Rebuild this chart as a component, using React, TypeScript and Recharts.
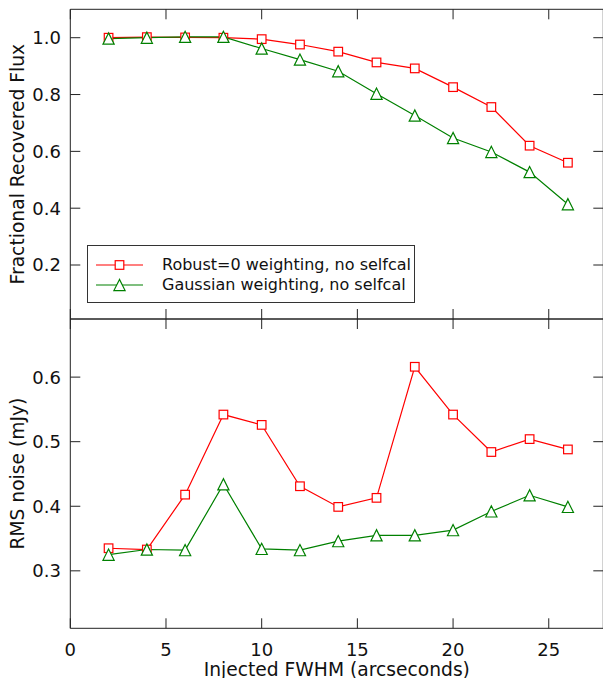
import React from 'react';
import { LineChart, Line, XAxis, YAxis, Legend } from 'recharts';

const fwhm = [2, 4, 6, 8, 10, 12, 14, 16, 18, 20, 22, 24, 26];
const fluxRobust = [1.0, 1.002, 1.001, 1.0, 0.995, 0.976, 0.951, 0.913, 0.892, 0.826, 0.756, 0.62, 0.56];
const fluxGaussian = [0.997, 1.0, 1.003, 1.003, 0.962, 0.923, 0.882, 0.803, 0.726, 0.647, 0.598, 0.527, 0.414];
const rmsRobust = [0.335, 0.333, 0.418, 0.542, 0.526, 0.431, 0.399, 0.413, 0.616, 0.542, 0.484, 0.504, 0.488];
const rmsGaussian = [0.325, 0.333, 0.332, 0.434, 0.334, 0.332, 0.346, 0.355, 0.355, 0.363, 0.392, 0.417, 0.399];

const xTicks = [0, 5, 10, 15, 20, 25];
const fluxTicks = [0.2, 0.4, 0.6, 0.8, 1.0];
const rmsTicks = [0.3, 0.4, 0.5, 0.6];

const seriesNames = ['Robust=0 weighting, no selfcal', 'Gaussian weighting, no selfcal'];
const xLabel = 'Injected FWHM (arcseconds)';
const fluxLabel = 'Fractional Recovered Flux';
const rmsLabel = 'RMS noise (mJy)';

const RED = '#ff0000';
const GREEN = '#008000';
const AXIS = '#222';
const TS = -10;
const FONT = 'DejaVu Sans, sans-serif';

const fluxData = fwhm.map((x, i) => ({ x, robust: fluxRobust[i], gauss: fluxGaussian[i] }));
const rmsData = fwhm.map((x, i) => ({ x, robust: rmsRobust[i], gauss: rmsGaussian[i] }));

const XDOMAIN: [number, number] = [0, 27.85];

const squareDot = (p: any) => {
  const { cx, cy, index } = p;
  if (cx == null || cy == null) return <g key={`s-${index}`} />;
  const h = 4.3;
  return (
    <rect key={`s-${index}`} x={cx - h} y={cy - h} width={2 * h} height={2 * h}
      fill="#fff" stroke={RED} strokeWidth={1.2} />
  );
};

const triDot = (p: any) => {
  const { cx, cy, index } = p;
  if (cx == null || cy == null) return <g key={`t-${index}`} />;
  const h = 5.6;
  return (
    <polygon key={`t-${index}`} points={`${cx},${cy - h} ${cx - h},${cy + h} ${cx + h},${cy + h}`}
      fill="#fff" stroke={GREEN} strokeWidth={1.2} strokeLinejoin="miter" />
  );
};

const noLabel = () => <g />;

const yTitle = (label: string) => (props: any) => {
  const vb = props.viewBox || {};
  const x = (vb.x ?? 0) + 24;
  const y = (vb.y ?? 0) + (vb.height ?? 0) / 2;
  return (
    <text x={x} y={y} transform={`rotate(-90, ${x}, ${y})`} textAnchor="middle"
      fontSize={18.7} fontFamily={FONT} fill="#111">{label}</text>
  );
};

const xTitle = (props: any) => {
  const vb = props.viewBox || {};
  const x = (vb.x ?? 0) + (vb.width ?? 0) / 2;
  const y = (vb.y ?? 0) + 48;
  return (
    <text x={x} y={y} textAnchor="middle" fontSize={18.7} fontFamily={FONT} fill="#111">{xLabel}</text>
  );
};

const renderLegend = () => {
  const rows = [
    { name: seriesNames[0], color: RED, shape: 'square' },
    { name: seriesNames[1], color: GREEN, shape: 'tri' },
  ];
  return (
    <div style={{ width: 328.3, height: 58, boxSizing: 'border-box', border: '1px solid #333', background: '#fff', position: 'relative' }}>
      {rows.map((r, i) => (
        <div key={r.name} style={{ position: 'absolute', left: 0, top: 8.7 + i * 20, height: 20, width: 328, display: 'flex', alignItems: 'center' }}>
          <svg width={70} height={20} style={{ display: 'block' }}>
            <line x1={8} x2={55} y1={10} y2={10} stroke={r.color} strokeWidth={1.2} />
            {r.shape === 'square'
              ? <rect x={31.5 - 4.3} y={10 - 4.3} width={8.6} height={8.6} fill="#fff" stroke={r.color} strokeWidth={1.2} />
              : <polygon points={`31.5,${10 - 5.6} ${31.5 - 5.6},${10 + 5.6} ${31.5 + 5.6},${10 + 5.6}`} fill="#fff" stroke={r.color} strokeWidth={1.2} />}
          </svg>
          <span style={{ marginLeft: 4.3, fontSize: 16, fontFamily: FONT, color: '#111', whiteSpace: 'nowrap', lineHeight: '20px' }}>{r.name}</span>
        </div>
      ))}
    </div>
  );
};

const tickStyle = { fontSize: 18, fill: '#111', fontFamily: FONT };
const tl = { stroke: AXIS, strokeWidth: 1 };

export default function App() {
  return (
    <div style={{ position: 'fixed', left: 0, top: 0, width: 603, height: 678, overflow: 'hidden', background: '#fff' }}>
      <div style={{ position: 'absolute', left: 0, top: 0 }}>
        <LineChart width={620} height={330} data={fluxData} margin={{ top: 8.3, right: 15.7, bottom: 10, left: 0 }}>
          <XAxis xAxisId="b" dataKey="x" type="number" domain={XDOMAIN} ticks={xTicks} allowDataOverflow
            orientation="bottom" height={1} tick={noLabel} tickSize={TS} tickLine={tl} stroke={AXIS} />
          <XAxis xAxisId="t" dataKey="x" type="number" domain={XDOMAIN} ticks={xTicks} allowDataOverflow
            orientation="top" height={1} tick={noLabel} tickSize={TS} tickLine={tl} stroke={AXIS} />
          <YAxis yAxisId="l" type="number" domain={[0.01, 1.1]} ticks={fluxTicks} allowDataOverflow
            width={70.3} tickSize={TS} tickLine={tl} tickMargin={19.3} tick={tickStyle} stroke={AXIS}
            tickFormatter={(v: number) => v.toFixed(1)} label={yTitle(fluxLabel)} />
          <YAxis yAxisId="r" orientation="right" type="number" domain={[0.01, 1.1]} ticks={fluxTicks} allowDataOverflow
            width={1} tickSize={TS} tickLine={tl} tick={noLabel} stroke={AXIS} />
          <Legend verticalAlign="middle" align="center" layout="horizontal" content={renderLegend}
            wrapperStyle={{ left: 86.7, top: 245, width: 328.3, height: 58 }} />
          <Line xAxisId="b" yAxisId="l" dataKey="robust" name={seriesNames[0]} stroke={RED} strokeWidth={1.2}
            dot={squareDot} activeDot={false} isAnimationActive={false} />
          <Line xAxisId="b" yAxisId="l" dataKey="gauss" name={seriesNames[1]} stroke={GREEN} strokeWidth={1.2}
            dot={triDot} activeDot={false} isAnimationActive={false} />
        </LineChart>
      </div>
      <div style={{ position: 'absolute', left: 0, top: 300 }}>
        <LineChart width={620} height={378} data={rmsData} margin={{ top: 18, right: 15.7, bottom: 0, left: 0 }}>
          <XAxis xAxisId="b" dataKey="x" type="number" domain={XDOMAIN} ticks={xTicks} allowDataOverflow
            orientation="bottom" height={49.7} tick={tickStyle} tickSize={TS} tickLine={tl} tickMargin={25.3} stroke={AXIS}
            label={xTitle} />
          <XAxis xAxisId="t" dataKey="x" type="number" domain={XDOMAIN} ticks={xTicks} allowDataOverflow
            orientation="top" height={1} tick={noLabel} tickSize={TS} tickLine={tl} stroke={AXIS} />
          <YAxis yAxisId="l" type="number" domain={[0.211, 0.69]} ticks={rmsTicks} allowDataOverflow
            width={70.3} tickSize={TS} tickLine={tl} tickMargin={19.3} tick={tickStyle} stroke={AXIS}
            tickFormatter={(v: number) => v.toFixed(1)} label={yTitle(rmsLabel)} />
          <YAxis yAxisId="r" orientation="right" type="number" domain={[0.211, 0.69]} ticks={rmsTicks} allowDataOverflow
            width={1} tickSize={TS} tickLine={tl} tick={noLabel} stroke={AXIS} />
          <Line xAxisId="b" yAxisId="l" dataKey="robust" name={seriesNames[0]} stroke={RED} strokeWidth={1.2}
            dot={squareDot} activeDot={false} isAnimationActive={false} />
          <Line xAxisId="b" yAxisId="l" dataKey="gauss" name={seriesNames[1]} stroke={GREEN} strokeWidth={1.2}
            dot={triDot} activeDot={false} isAnimationActive={false} />
        </LineChart>
      </div>
    </div>
  );
}
